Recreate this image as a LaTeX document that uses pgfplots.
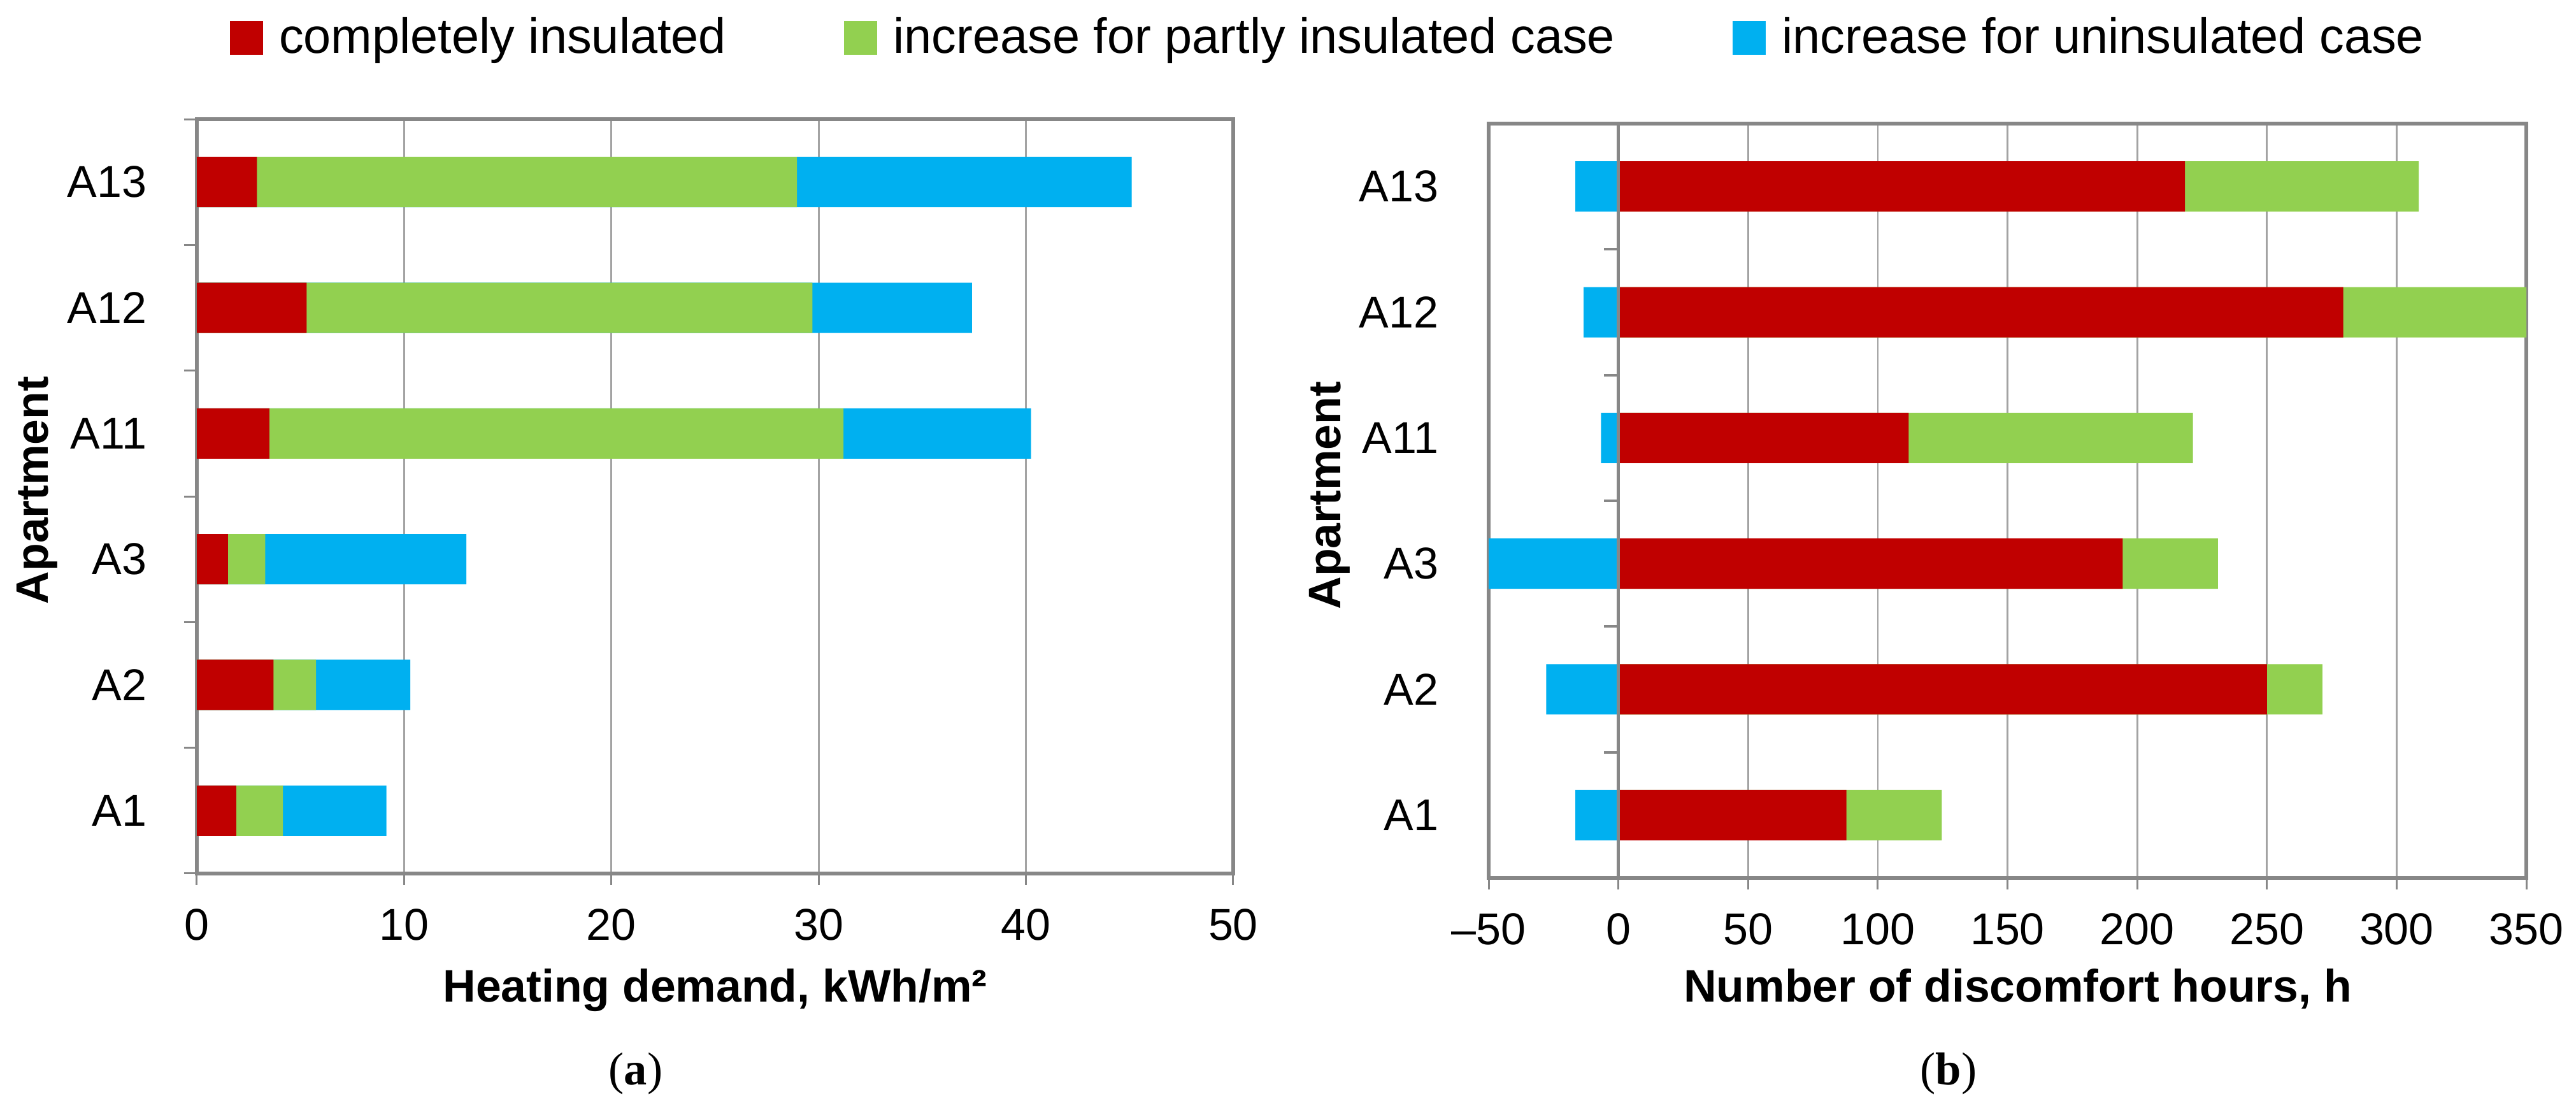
\documentclass[border=0pt]{standalone}
\usepackage{fontspec}
\setmainfont{Liberation Sans}
\newfontfamily\serifa{Liberation Serif}
\usepackage{pgfplots}
\usepackage{pgfplotstable}
\pgfplotsset{compat=1.18}
\definecolor{cred}{HTML}{C00000}
\definecolor{cgreen}{HTML}{92D050}
\definecolor{cblue}{HTML}{00B0F0}
\definecolor{axisgray}{HTML}{878787}
\definecolor{gridgray}{HTML}{A3A3A3}

\pgfplotstableread{
y red green blue
0 1.9 4.15 9.15
1 3.7 5.75 10.3
2 1.5 3.3 13.0
3 3.5 31.2 40.25
4 5.3 29.7 37.4
5 2.9 28.95 45.1
}\heating

\pgfplotstableread{
y red green blue
0 87.9 124.7 -16.6
1 250 271.4 -27.8
2 194.4 231.1 -50
3 111.9 221.5 -6.7
4 279.4 350 -13.4
5 218.4 308.5 -16.6
}\discomfort

\pgfplotsset{
  common/.style={
    scale only axis,
    anchor=south west,
    height=236.8pt,
    ymin=-0.5, ymax=5.5,
    ytick={0,...,5},
    yticklabels={A1,A2,A3,A11,A12,A13},
    xtick pos=bottom, ytick pos=left,
    tick align=outside,
    major tick length=3.6pt,
    minor tick length=4pt,
    major y tick style={draw=none},
    tick style={axisgray, line width=0.6pt},
    axis line style={axisgray, line width=1.1pt},
    xmajorgrids,
    grid style={gridgray, line width=0.55pt},
    tick label style={font=\fontsize{14}{16}\selectfont},
    xticklabel style={yshift=-4pt},
    yticklabel style={inner sep=0pt, xshift=-12pt},
    /pgf/number format/assume math mode=true,
    label style={font=\bfseries\fontsize{14.3}{16}\selectfont},
    ylabel={Apartment},
    legend image code/.code={\path[#1] (0pt,-5.3pt) rectangle (10.4pt,5.3pt);},
  },
}

\begin{document}
\begin{tikzpicture}
\path[use as bounding box] (0,0) rectangle (808.8pt,347.8pt);

\begin{axis}[common,
  at={(61.8pt,73.6pt)}, width=325.4pt,
  xmin=0, xmax=50, xtick={0,10,...,50},
  minor ytick={-0.5,0.5,...,5.5},
  xlabel={Heating demand, kWh/m²},
  xlabel style={at={(axis description cs:0.5,0)}, anchor=base, yshift=-40.4pt},
  ylabel style={at={(axis description cs:-0.1543,0.508)}, anchor=center},
  legend columns=3,
  legend style={at={(axis description cs:0.032,1.108)}, anchor=west,
    draw=none, fill=none, inner sep=0pt, outer sep=0pt,
    font=\fontsize{15.5}{18}\selectfont,
    nodes={inner sep=0pt},
    /tikz/every odd column/.append style={column sep=5pt},
    /tikz/every even column/.append style={column sep=37pt}},
]
\addlegendimage{fill=cred, draw=none}
\addlegendentry{completely insulated}
\addlegendimage{fill=cgreen, draw=none}
\addlegendentry{increase for partly insulated case}
\addlegendimage{fill=cblue, draw=none}
\addlegendentry{increase for uninsulated case}
\addplot[xbar, bar shift=0pt, bar width=15.8pt, fill=cblue, draw=none, forget plot] table[x=blue, y=y] {\heating};
\addplot[xbar, bar shift=0pt, bar width=15.8pt, fill=cgreen, draw=none, forget plot] table[x=green, y=y] {\heating};
\addplot[xbar, bar shift=0pt, bar width=15.8pt, fill=cred, draw=none, forget plot] table[x=red, y=y] {\heating};
\end{axis}

\begin{axis}[common,
  at={(467.4pt,72.2pt)}, width=325.8pt,
  xmin=-50, xmax=350, xtick={-50,0,...,350},
  xticklabels={–50,0,50,100,150,200,250,300,350},
  xlabel={Number of discomfort hours, h},
  xlabel style={at={(axis description cs:0.5,0)}, anchor=base, yshift=-39pt, xshift=3.2pt},
  ylabel style={at={(axis description cs:-0.1535,0.507)}, anchor=center},
]
\addplot[xbar, bar shift=0pt, bar width=15.8pt, fill=cgreen, draw=none, forget plot] table[x=green, y=y] {\discomfort};
\addplot[xbar, bar shift=0pt, bar width=15.8pt, fill=cred, draw=none, forget plot] table[x=red, y=y] {\discomfort};
\addplot[xbar, bar shift=0pt, bar width=15.8pt, fill=cblue, draw=none, forget plot] table[x=blue, y=y] {\discomfort};
\draw[axisgray, line width=1.1pt] (axis cs:0,-0.5) -- (axis cs:0,5.5);
\pgfplotsinvokeforeach{0.5,1.5,2.5,3.5,4.5}{
  \draw[axisgray, line width=0.8pt] (axis cs:0,#1) -- ++(-4.5pt,0pt);
}
\end{axis}

\node[font=\serifa\fontsize{14.5}{17}\selectfont] at (199.6pt,10.8pt) {(\textbf{a})};
\node[font=\serifa\fontsize{14.5}{17}\selectfont] at (611.8pt,10.8pt) {(\textbf{b})};
\end{tikzpicture}
\end{document}
